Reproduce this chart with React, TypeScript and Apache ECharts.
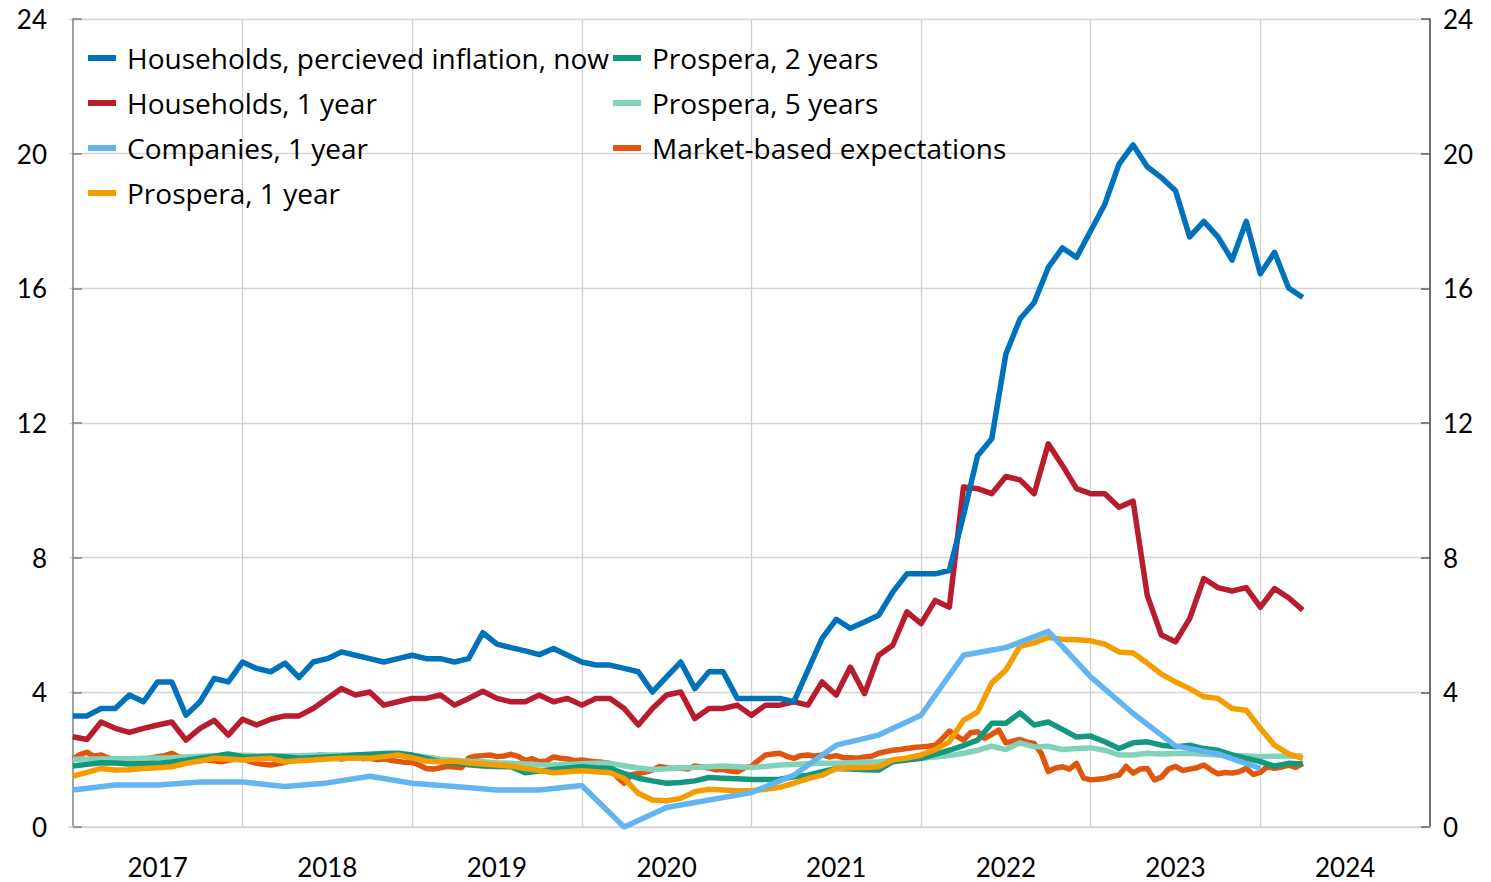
import React, { useEffect, useRef } from "react";
import * as echarts from "echarts";

// x values are months since January 2017
const YEAR_LABELS = ["2017", "2018", "2019", "2020", "2021", "2022", "2023", "2024"];
const Y_MIN = 0;
const Y_MAX = 24;
const Y_STEP = 4;

const SERIES_NAMES = [
  "Households, percieved inflation, now",
  "Households, 1 year",
  "Companies, 1 year",
  "Prospera, 1 year",
  "Prospera, 2 years",
  "Prospera, 5 years",
  "Market-based expectations",
];

// monthly, Jan 2017 .. Apr 2024
const householdsNow = [
  3.3, 3.3, 3.52, 3.52, 3.92, 3.72, 4.31, 4.31, 3.32, 3.72, 4.41, 4.31,
  4.9, 4.71, 4.61, 4.87, 4.44, 4.9, 5.0, 5.2, 5.1, 5.0, 4.9, 5.0,
  5.1, 5.0, 5.0, 4.9, 5.0, 5.77, 5.43, 5.33, 5.23, 5.12, 5.3, 5.1,
  4.9, 4.81, 4.81, 4.71, 4.61, 4.01, 4.46, 4.9, 4.11, 4.61, 4.61, 3.82,
  3.82, 3.82, 3.82, 3.72, 4.66, 5.6, 6.17, 5.9, 6.09, 6.29, 6.98, 7.52,
  7.52, 7.52, 7.62, 9.25, 11.03, 11.53, 14.05, 15.09, 15.58, 16.62, 17.2, 16.92,
  17.71, 18.5, 19.69, 20.26, 19.61, 19.29, 18.9, 17.53, 17.99, 17.53, 16.84, 17.99,
  16.43, 17.07, 16.01, 15.73,
];

const householdsOneYear = [
  2.68, 2.6, 3.12, 2.93, 2.81, 2.93, 3.03, 3.12, 2.58, 2.93, 3.17, 2.73,
  3.2, 3.03, 3.2, 3.3, 3.3, 3.52, 3.82, 4.11, 3.92, 4.01, 3.62, 3.72,
  3.82, 3.82, 3.92, 3.62, 3.82, 4.03, 3.82, 3.72, 3.72, 3.92, 3.72, 3.82,
  3.62, 3.82, 3.82, 3.52, 3.03, 3.52, 3.92, 4.01, 3.22, 3.52, 3.52, 3.62,
  3.32, 3.62, 3.62, 3.72, 3.62, 4.31, 3.92, 4.75, 3.96, 5.1, 5.4, 6.39,
  6.04, 6.73, 6.53, 10.1, 10.05, 9.9, 10.41, 10.31, 9.9, 11.38, 10.74, 10.05,
  9.9, 9.9, 9.5, 9.68, 6.88, 5.7, 5.5, 6.19, 7.38, 7.11, 7.01, 7.11,
  6.53, 7.08, 6.81, 6.44,
];

// quarterly, Jan 2017 .. Jan 2024
const companiesOneYear = [
  1.1, 1.25, 1.25, 1.34, 1.34, 1.2, 1.31, 1.51, 1.3, 1.2, 1.1, 1.1,
  1.23, 0.0, 0.58, 0.8, 1.02, 1.54, 2.43, 2.73, 3.32, 5.1, 5.33, 5.81,
  4.46, 3.37, 2.41, 2.17, 1.74,
];

// monthly
const prosperaOneYear = [
  1.51, 1.62, 1.74, 1.69, 1.7, 1.74, 1.76, 1.79, 1.89, 1.96, 2.04, 2.02,
  1.99, 2.02, 2.04, 1.94, 1.97, 1.99, 2.02, 2.04, 2.04, 2.04, 2.09, 2.14,
  2.05, 1.96, 1.94, 1.96, 1.9, 1.87, 1.84, 1.81, 1.74, 1.68, 1.61, 1.64,
  1.67, 1.64, 1.61, 1.44, 1.0, 0.8, 0.78, 0.85, 1.05, 1.12, 1.1, 1.08,
  1.08, 1.12, 1.18, 1.3, 1.44, 1.54, 1.74, 1.76, 1.77, 1.79, 1.99, 2.05,
  2.14, 2.3, 2.53, 3.17, 3.42, 4.28, 4.66, 5.37, 5.47, 5.63, 5.58, 5.56,
  5.53, 5.43, 5.2, 5.17, 4.87, 4.54, 4.31, 4.11, 3.87, 3.82, 3.52, 3.47,
  2.93, 2.43, 2.17, 2.04,
];

const prosperaTwoYears = [
  1.81, 1.86, 1.91, 1.9, 1.87, 1.88, 1.89, 1.93, 1.98, 2.04, 2.1, 2.17,
  2.09, 2.08, 2.1, 2.09, 2.04, 2.06, 2.08, 2.1, 2.14, 2.16, 2.18, 2.19,
  2.14, 2.04, 1.94, 1.9, 1.85, 1.81, 1.8, 1.79, 1.61, 1.66, 1.71, 1.75,
  1.79, 1.76, 1.74, 1.59, 1.45, 1.37, 1.3, 1.32, 1.37, 1.47, 1.45, 1.43,
  1.41, 1.41, 1.42, 1.49, 1.54, 1.64, 1.74, 1.72, 1.7, 1.69, 1.94, 1.99,
  2.04, 2.16, 2.28, 2.42, 2.58, 3.08, 3.08, 3.39, 3.03, 3.12, 2.9, 2.67,
  2.7, 2.53, 2.33, 2.5, 2.53, 2.43, 2.38, 2.43, 2.33, 2.28, 2.14, 2.04,
  1.94, 1.81, 1.89, 1.87,
];

const prosperaFiveYears = [
  2.01, 2.02, 2.02, 2.03, 2.03, 2.04, 2.05, 2.06, 2.08, 2.1, 2.12, 2.14,
  2.13, 2.12, 2.12, 2.11, 2.12, 2.13, 2.14, 2.14, 2.14, 2.14, 2.14, 2.14,
  2.12, 2.08, 2.01, 1.98, 1.95, 1.94, 1.91, 1.89, 1.87, 1.85, 1.84, 1.86,
  1.88, 1.89, 1.89, 1.82, 1.75, 1.71, 1.73, 1.76, 1.77, 1.79, 1.81, 1.79,
  1.77, 1.8, 1.84, 1.86, 1.88, 1.89, 1.89, 1.91, 1.93, 1.94, 1.98, 2.01,
  2.04, 2.08, 2.12, 2.19, 2.28, 2.4, 2.3, 2.5, 2.38, 2.4, 2.3, 2.33,
  2.35, 2.28, 2.14, 2.14, 2.19, 2.17, 2.18, 2.19, 2.16, 2.14, 2.13, 2.11,
  2.09, 2.1, 2.11, 2.11,
];

// half-monthly
const marketBased = [
  2.02, 2.15, 2.22, 2.1, 2.14, 2.05, 2.0, 1.98, 2.02, 1.96, 2.0, 2.05,
  2.09, 2.12, 2.19, 2.08, 2.05, 2.0, 2.02, 1.99, 1.97, 1.94, 1.98, 2.02,
  2.04, 1.95, 1.89, 1.86, 1.84, 1.88, 1.92, 1.97, 1.99, 2.03, 2.08, 2.14,
  2.12, 2.06, 2.02, 2.05, 2.08, 2.03, 2.04, 2.0, 2.03, 1.98, 1.95, 1.92,
  1.92, 1.84, 1.74, 1.72, 1.76, 1.8, 1.78, 1.76, 2.05, 2.1, 2.12, 2.14,
  2.09, 2.11, 2.16, 2.1, 1.98, 2.03, 1.94, 1.96, 2.08, 2.04, 2.02, 1.97,
  1.99, 1.96, 1.94, 1.92, 1.89, 1.49, 1.3, 1.55, 1.59, 1.63, 1.69, 1.8,
  1.76, 1.74, 1.76, 1.72, 1.81, 1.78, 1.75, 1.7, 1.71, 1.66, 1.64, 1.76,
  1.8, 1.98, 2.14, 2.17, 2.19, 2.1, 2.04, 2.12, 2.14, 2.1, 2.14, 2.08,
  2.12, 2.06, 2.06, 2.04, 2.08, 2.1, 2.19, 2.24, 2.28, 2.3, 2.33, 2.36,
  2.38, 2.4, 2.43, 2.62, 2.85, 2.7, 2.58, 2.8, 2.83, 2.63, 2.75, 2.88,
  2.5, 2.55, 2.6, 2.52, 2.48, 2.19, 1.65, 1.75, 1.79, 1.72, 1.89, 1.45,
  1.4, 1.42, 1.44, 1.5, 1.54, 1.8, 1.6, 1.72, 1.74, 1.4, 1.48, 1.72,
  1.8, 1.68, 1.72, 1.76, 1.84, 1.7, 1.58, 1.62, 1.6, 1.64, 1.74, 1.56,
  1.62, 1.79, 1.74, 1.78, 1.84, 1.77, 1.89,
];

const COLORS = ["#0072BC", "#B71D2C", "#63B5F0", "#F59D00", "#13977E", "#80D3BA", "#E0560F"];

const LEGEND_FONT = "Open Sans";
const AXIS_FONT = "Lato";

export default function App() {
  const ref = useRef<HTMLDivElement>(null);

  useEffect(() => {
    if (!ref.current) return;
    const chart = echarts.init(ref.current, undefined, { renderer: "svg" });

    const monthly = (arr: number[]) => arr.map((v, i) => [i, v]);
    const quarterly = (arr: number[]) => arr.map((v, i) => [i * 3, v]);
    const halfMonthly = (arr: number[]) => arr.map((v, i) => [i * 0.5, v]);

    const yearStarts = YEAR_LABELS.slice(1).map((_, i) => (i + 1) * 12);
    const yearMids = YEAR_LABELS.map((_, i) => i * 12 + 6);

    const lineSeries = (name: string, data: number[][], color: string, z: number, width = 5.5) => ({
      name,
      type: "line",
      data,
      showSymbol: false,
      symbol: "none",
      z,
      lineStyle: { color, width, join: "round" },
      itemStyle: { color },
      emphasis: { disabled: true },
    });

    const legendCommon = {
      orient: "vertical",
      icon: "rect",
      itemWidth: 28,
      itemHeight: 6,
      itemGap: 13,
      padding: 0,
      selectedMode: false,
      textStyle: {
        fontFamily: LEGEND_FONT,
        fontSize: 28,
        color: "#000",
        lineHeight: 32,
        padding: [0, 0, 0, 6],
      },
    };

    chart.setOption({
      animation: false,
      backgroundColor: "#fff",
      grid: { left: 69, right: 61, top: 19, bottom: 55, containLabel: false },
      legend: [
        { ...legendCommon, left: 88, top: 42, data: SERIES_NAMES.slice(0, 4) },
        { ...legendCommon, left: 613, top: 42, data: SERIES_NAMES.slice(4) },
      ],
      xAxis: {
        type: "value",
        min: -0.27,
        max: 96,
        axisLine: { show: true, lineStyle: { color: "#d9d9d9", width: 2 } },
        axisTick: { show: false, customValues: yearStarts },
        splitLine: { show: true, lineStyle: { color: "#d0d0d0", width: 1.3 } },
        axisLabel: {
          customValues: yearMids,
          formatter: (v: number) => YEAR_LABELS[Math.round((v - 6) / 12)] ?? "",
          fontFamily: AXIS_FONT,
          fontSize: 26,
          color: "#000",
          margin: 27,
        },
      },
      yAxis: [
        {
          type: "value",
          min: Y_MIN,
          max: Y_MAX,
          interval: Y_STEP,
          position: "left",
          axisLine: { show: true, lineStyle: { color: "#808080", width: 1.5 } },
          axisTick: { show: true, inside: true, length: 9, lineStyle: { color: "#808080", width: 1.5 } },
          splitLine: { show: true, lineStyle: { color: "#d4d4d4", width: 1.3 } },
          axisLabel: { fontFamily: AXIS_FONT, fontSize: 26, color: "#000", margin: 22 },
        },
        {
          type: "value",
          min: Y_MIN,
          max: Y_MAX,
          interval: Y_STEP,
          position: "right",
          axisLine: { show: true, lineStyle: { color: "#404040", width: 1.5 } },
          axisTick: { show: true, inside: true, length: 9, lineStyle: { color: "#606060", width: 1.5 } },
          splitLine: { show: false },
          axisLabel: { fontFamily: AXIS_FONT, fontSize: 26, color: "#000", margin: 13 },
        },
      ],
      series: [
        lineSeries(SERIES_NAMES[0], monthly(householdsNow), COLORS[0], 9),
        lineSeries(SERIES_NAMES[1], monthly(householdsOneYear), COLORS[1], 8),
        lineSeries(SERIES_NAMES[2], quarterly(companiesOneYear), COLORS[2], 7),
        lineSeries(SERIES_NAMES[3], monthly(prosperaOneYear), COLORS[3], 6),
        lineSeries(SERIES_NAMES[4], monthly(prosperaTwoYears), COLORS[4], 5),
        lineSeries(SERIES_NAMES[5], monthly(prosperaFiveYears), COLORS[5], 4),
        lineSeries(SERIES_NAMES[6], halfMonthly(marketBased), COLORS[6], 3, 5.5),
      ],
    });

    return () => chart.dispose();
  }, []);

  return (
    <div
      ref={ref}
      style={{ position: "absolute", left: 0, top: 0, width: 1491, height: 882 }}
    />
  );
}
